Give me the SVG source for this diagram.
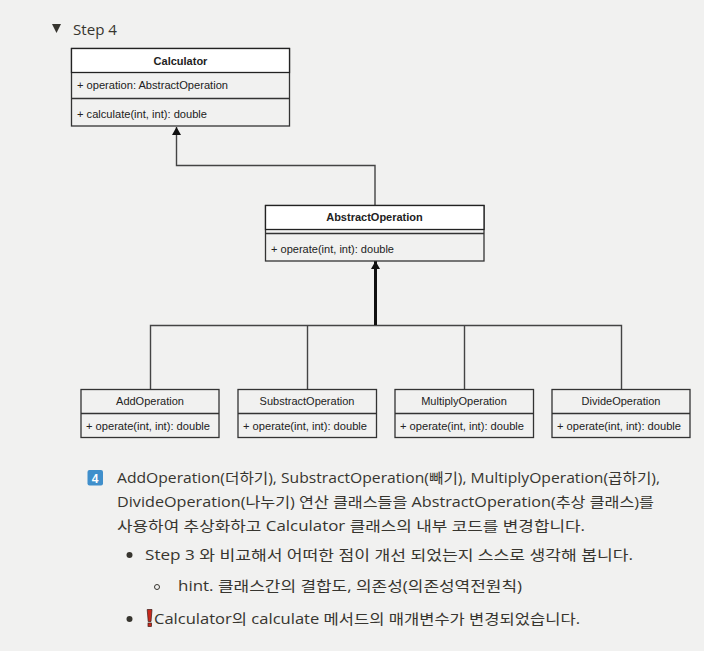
<svg xmlns="http://www.w3.org/2000/svg" width="704" height="651" viewBox="0 0 704 651">
<style>
.box{fill:#f1f1f0;stroke:#333;stroke-width:1.3}
.hd{fill:#fff;stroke:#222;stroke-width:1.3}
.ln{stroke:#333;stroke-width:1.3;fill:none}
.con{stroke:#444;stroke-width:1.4;fill:none}
.u{font-family:"Liberation Sans",Arial,sans-serif;font-size:11px;fill:#222}
.t{font-family:"Liberation Sans",Arial,sans-serif;font-size:11px;fill:#222;text-anchor:middle}
.b{font-weight:bold}
.p{font-family:"Open Sans","Noto Sans CJK KR",sans-serif;font-size:14px;fill:#37352f}
</style>
<defs>
<marker id="a" markerUnits="userSpaceOnUse" markerWidth="10" markerHeight="10" refX="8" refY="4.5" orient="auto"><path d="M0 0L8 4.500L0 9Z" fill="#111"/></marker>
</defs>
<rect width="704" height="651" fill="#f1f1f0"/>
<path d="M52 24H61L56.500 33Z" fill="#37352f"/>
<text class="p" x="73" y="35" textLength="44" lengthAdjust="spacingAndGlyphs">Step 4</text>
<g id="connectors">
<path class="con" d="M375 205.500V165.500H176.500V127" marker-end="url(#a)"/>
<path class="con" d="M150.500 389V325.500H621.500V389M307.500 325.500V389M464.500 325.500V389"/>
<path d="M375.500 325V261" stroke="#111" stroke-width="3" fill="none" marker-end="url(#a)"/>
</g>
<g id="calculator">
<rect class="box" x="71.500" y="48.500" width="218" height="77.500"/>
<rect class="hd" x="71.500" y="48.500" width="218" height="24"/>
<path class="ln" d="M71.500 98.500H289.500"/>
<text class="t b" x="180.500" y="65">Calculator</text>
<text class="u" x="77" y="89" textLength="151" lengthAdjust="spacingAndGlyphs">+ operation: AbstractOperation</text>
<text class="u" x="77" y="118" textLength="130" lengthAdjust="spacingAndGlyphs">+ calculate(int, int): double</text>
</g>
<g id="abstract-operation">
<rect class="box" x="265.500" y="205.500" width="218.500" height="55.500"/>
<rect class="hd" x="265.500" y="205.500" width="218.500" height="24"/>
<path class="ln" d="M265.500 233.500H484"/>
<text class="t b" x="374.500" y="221">AbstractOperation</text>
<text class="u" x="271" y="253" textLength="123" lengthAdjust="spacingAndGlyphs">+ operate(int, int): double</text>
</g>
<g id="add-operation">
<rect class="box" x="81" y="389.500" width="138" height="48"/>
<path class="ln" d="M81 413.500H219"/>
<text class="t" x="150" y="405">AddOperation</text>
<text class="u" x="86" y="430" textLength="124" lengthAdjust="spacingAndGlyphs">+ operate(int, int): double</text>
</g>
<g id="substract-operation">
<rect class="box" x="238" y="389.500" width="138.500" height="48"/>
<path class="ln" d="M238 413.500H376.500"/>
<text class="t" x="307" y="405">SubstractOperation</text>
<text class="u" x="243" y="430" textLength="124" lengthAdjust="spacingAndGlyphs">+ operate(int, int): double</text>
</g>
<g id="multiply-operation">
<rect class="box" x="395" y="389.500" width="138.500" height="48"/>
<path class="ln" d="M395 413.500H533.500"/>
<text class="t" x="464" y="405">MultiplyOperation</text>
<text class="u" x="400" y="430" textLength="124" lengthAdjust="spacingAndGlyphs">+ operate(int, int): double</text>
</g>
<g id="divide-operation">
<rect class="box" x="552" y="389.500" width="138" height="48"/>
<path class="ln" d="M552 413.500H690"/>
<text class="t" x="621" y="405">DivideOperation</text>
<text class="u" x="557" y="430" textLength="124" lengthAdjust="spacingAndGlyphs">+ operate(int, int): double</text>
</g>
<rect x="87.500" y="470" width="15.500" height="15.500" rx="2" fill="#408fcb"/>
<text x="95.200" y="482.500" text-anchor="middle" font-family="'Liberation Sans',sans-serif" font-weight="bold" font-size="12" fill="#fff">4</text>
<text class="p" x="117" y="483" textLength="543" lengthAdjust="spacingAndGlyphs">AddOperation(더하기), SubstractOperation(빼기), MultiplyOperation(곱하기),</text>
<text class="p" x="117" y="507" textLength="537" lengthAdjust="spacingAndGlyphs">DivideOperation(나누기) 연산 클래스들을 AbstractOperation(추상 클래스)를</text>
<text class="p" x="117" y="531" textLength="468" lengthAdjust="spacingAndGlyphs">사용하여 추상화하고 Calculator 클래스의 내부 코드를 변경합니다.</text>
<circle cx="129.500" cy="555" r="3" fill="#37352f"/>
<text class="p" x="145" y="560" textLength="488" lengthAdjust="spacingAndGlyphs">Step 3 와 비교해서 어떠한 점이 개선 되었는지 스스로 생각해 봅니다.</text>
<circle cx="157" cy="587" r="2.500" fill="none" stroke="#37352f"/>
<text class="p" x="178" y="591" textLength="344" lengthAdjust="spacingAndGlyphs">hint. 클래스간의 결합도, 의존성(의존성역전원칙)</text>
<circle cx="129.500" cy="619" r="3" fill="#37352f"/>
<path d="M147.200 609.500H152L151 621.500H148.200Z" fill="#c9281c" stroke="#3a1a16" stroke-width=".7"/>
<rect x="148" y="623" width="3.500" height="3.500" fill="#c9281c" stroke="#3a1a16" stroke-width=".7"/>
<text class="p" x="154" y="624" textLength="426" lengthAdjust="spacingAndGlyphs">Calculator의 calculate 메서드의 매개변수가 변경되었습니다.</text>
</svg>
